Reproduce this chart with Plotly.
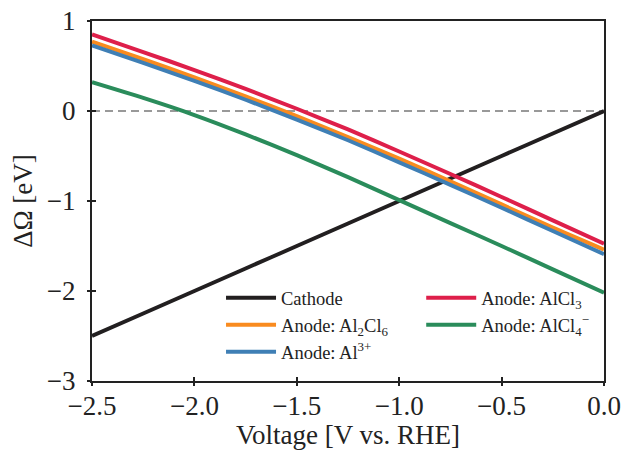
import plotly.graph_objects as go

# Data
voltage = [-2.5, -2.25, -2.0, -1.75, -1.5, -1.25, -1.0, -0.75, -0.5, -0.25, 0.0]
cathode = [-2.5, -2.25, -2.0, -1.75, -1.5, -1.25, -1.0, -0.75, -0.5, -0.25, 0.0]
anode_al2cl6 = [0.77, 0.575, 0.374, 0.163, -0.058, -0.29, -0.53, -0.781, -1.038, -1.296, -1.54]
anode_al3 = [0.73, 0.535, 0.335, 0.125, -0.095, -0.325, -0.57, -0.82, -1.075, -1.333, -1.59]
anode_alcl3 = [0.85, 0.655, 0.455, 0.245, 0.025, -0.205, -0.45, -0.70, -0.955, -1.215, -1.475]
anode_alcl4 = [0.32, 0.145, -0.045, -0.26, -0.49, -0.735, -0.99, -1.245, -1.50, -1.76, -2.02]

x_ticks = [-2.5, -2.0, -1.5, -1.0, -0.5, 0.0]
y_ticks = [-3, -2, -1, 0, 1]

FONT = "Liberation Serif, Times New Roman, serif"
TXT = "#222222"

series = [
    ("Cathode", cathode, "#221F20", "legend"),
    ("Anode: Al<sub>2</sub>Cl<sub>6</sub>", anode_al2cl6, "#F98B1F", "legend"),
    ("Anode: Al<sup>3+</sup>", anode_al3, "#3F7FB5", "legend"),
    ("Anode: AlCl<sub>3</sub>", anode_alcl3, "#DE1F4A", "legend2"),
    ("Anode: AlCl<sub>4</sub><sup>−</sup>", anode_alcl4, "#2A8C5B", "legend2"),
]

fig = go.Figure()
for name, ys, color, leg in series:
    fig.add_trace(go.Scatter(
        x=voltage, y=ys, mode="lines", name=name,
        line=dict(color=color, width=4, shape="spline", smoothing=0.6),
        legend=leg,
    ))

# dummy trace for the overlay axes (outside tick marks)
fig.add_trace(go.Scatter(x=[], y=[], xaxis="x2", yaxis="y2", showlegend=False))

fig.add_shape(type="line", xref="paper", x0=0, x1=1, yref="y", y0=0, y1=0,
              line=dict(color="#999999", width=2, dash="8px,5px"), layer="below")

axis_common = dict(
    showline=True, linecolor="#222222", linewidth=2, mirror=True,
    ticks="inside", ticklen=4, tickwidth=2, tickcolor="#222222",
    showgrid=False, zeroline=False,
    ticklabeloverflow="allow",
    tickfont=dict(family=FONT, size=27, color=TXT),
)
overlay_common = dict(
    showticklabels=False, ticks="outside", ticklen=4, tickwidth=2, tickcolor="#222222",
    showline=False, showgrid=False, zeroline=False, automargin=False,
)

fig.update_layout(
    width=624, height=450,
    margin=dict(l=92, r=20, t=21, b=69),
    paper_bgcolor="white", plot_bgcolor="white",
    font=dict(family=FONT, color=TXT),
    xaxis=dict(range=[-2.5, 0.0], tickvals=x_ticks,
               ticktext=[f"{v:.1f}".replace("-", "−") for v in x_ticks],
               title=dict(text="Voltage [V vs. RHE]", font=dict(family=FONT, size=27, color=TXT)),
               ticklabelstandoff=0, automargin=False,
               **axis_common),
    yaxis=dict(range=[-3, 1], tickvals=y_ticks,
               ticktext=[str(v).replace("-", "−") for v in y_ticks],
               title=dict(text="ΔΩ [eV]", font=dict(family=FONT, size=27, color=TXT), standoff=6),
               ticklabelstandoff=9, automargin="left",
               **axis_common),
    xaxis2=dict(overlaying="x", range=[-2.5, 0.0], tickvals=x_ticks, **overlay_common),
    yaxis2=dict(overlaying="y", range=[-3, 1], tickvals=y_ticks, **overlay_common),
    legend=dict(x=0.252, y=0.283, xanchor="left", yanchor="top",
                bgcolor="rgba(0,0,0,0)", font=dict(family=FONT, size=18.5, color=TXT),
                itemwidth=50, tracegroupgap=0),
    legend2=dict(x=0.643, y=0.283, xanchor="left", yanchor="top",
                 bgcolor="rgba(0,0,0,0)", font=dict(family=FONT, size=18.5, color=TXT),
                 itemwidth=50, tracegroupgap=0),
)

fig.write_html("out.html", config={"displayModeBar": False},
               post_script="document.body.style.margin='0';document.body.style.overflow='hidden';")
